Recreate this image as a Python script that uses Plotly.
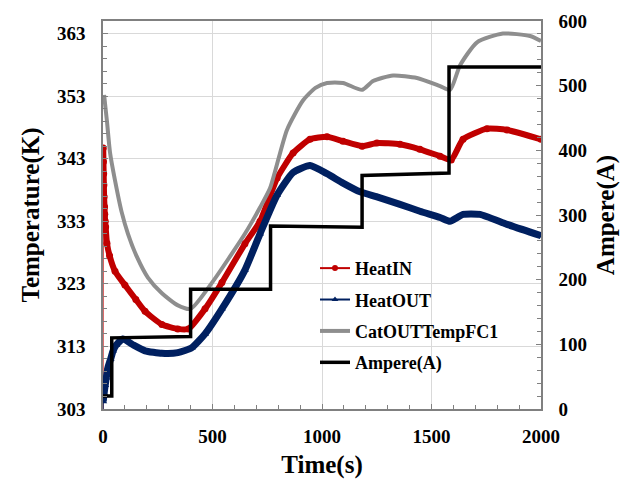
import plotly.graph_objects as go

# ---- data ----
t_in = [0, 1, 2, 3, 4, 5, 7, 8, 10, 12, 18, 30, 55, 100, 150, 192, 269, 342,
        390, 466, 543, 648, 717, 795, 868, 945, 1023, 1096, 1183, 1251, 1356,
        1447, 1539, 1590, 1644, 1753, 1845, 2000]
heat_in = [300, 344.7, 342.5, 340.6, 338.8, 336.9, 335.3, 334.1, 333.0, 332.1,
           329.5, 327.5, 325.0, 322.8, 320.5, 318.6, 316.5, 315.8, 315.8, 319.0,
           323.2, 329.4, 333.0, 339.9, 343.9, 346.1, 346.5, 345.8, 345.0, 345.5,
           345.3, 344.5, 343.4, 342.8, 346.1, 347.8, 347.6, 346.1]

t_out = [0, 1, 5, 10, 15, 23, 35, 46, 60, 91, 140, 192, 269, 342, 406, 466,
         543, 648, 717, 795, 868, 945, 1023, 1096, 1174, 1251, 1356, 1447,
         1539, 1584, 1644, 1721, 1845, 2000]
heat_out = [300, 304.2, 305.5, 306.8, 308.0, 309.7, 311.0, 312.3, 313.2, 314.2,
            313.2, 312.3, 311.9, 312.0, 312.8, 315.0, 319.0, 325.2, 331.0, 337.2,
            340.8, 341.9, 340.6, 339.1, 337.7, 336.9, 335.7, 334.6, 333.6, 333.0,
            334.1, 334.1, 332.5, 330.7]

t_cat = [5, 18, 32, 55, 85, 114, 155, 205, 269, 340, 400, 498, 648, 717, 763,
         840, 913, 970, 1023, 1096, 1183, 1233, 1324, 1434, 1539, 1585, 1630,
         1708, 1826, 1950, 2000]
cat_out = [353.2, 349.0, 344.0, 339.5, 334.5, 331.0, 327.3, 324.0, 321.5,
           319.6, 319.0, 323.2, 331.0, 335.2, 338.3, 347.6, 352.3, 354.3, 355.1,
           355.1, 354.0, 355.4, 356.3, 355.9, 354.6, 354.0, 357.9, 361.6, 363.0,
           362.6, 361.8]

t_amp = [0, 40, 40, 400, 400, 765, 765, 1183, 1183, 1580, 1580, 2000]
ampere = [20, 20, 110, 112, 185, 185, 283, 281, 361, 365, 529, 529]

temp_ticks = [303, 313, 323, 333, 343, 353, 363]
amp_ticks = [0, 100, 200, 300, 400, 500, 600]
time_ticks = [0, 500, 1000, 1500, 2000]

names = ["HeatIN", "HeatOUT", "CatOUTTempFC1", "Ampere(A)"]

RED = "#C00000"
BLUE = "#002060"
GREY = "#8E8E8E"
BLACK = "#000000"
AXC = "#808080"
FONT = "Liberation Serif, Times New Roman, serif"

fig = go.Figure()

# thin start segments (first sample) of HeatIN / HeatOUT
fig.add_trace(go.Scatter(x=t_in[:2], y=heat_in[:2], mode="lines",
                         line=dict(color=RED, width=1), showlegend=False))
fig.add_trace(go.Scatter(x=t_out[:2], y=heat_out[:2], mode="lines",
                         line=dict(color=BLUE, width=1), showlegend=False))

fig.add_trace(go.Scatter(x=t_in[1:], y=heat_in[1:], mode="lines+markers",
                         line=dict(color=RED, width=6, shape="spline", smoothing=0.5),
                         marker=dict(color=RED, size=7, symbol="circle"),
                         showlegend=False))
fig.add_trace(go.Scatter(x=t_out[1:], y=heat_out[1:], mode="lines+markers",
                         line=dict(color=BLUE, width=7, shape="spline", smoothing=0.5),
                         marker=dict(color=BLUE, size=7, symbol="triangle-up"),
                         showlegend=False))
fig.add_trace(go.Scatter(x=t_cat, y=cat_out, mode="lines",
                         line=dict(color=GREY, width=4, shape="spline", smoothing=0.6),
                         showlegend=False))
fig.add_trace(go.Scatter(x=t_amp, y=ampere, mode="lines", yaxis="y2",
                         line=dict(color=BLACK, width=3.5),
                         showlegend=False))

# legend entries
fig.add_trace(go.Scatter(x=[None], y=[None], mode="lines+markers", name=names[0],
                         line=dict(color=RED, width=2),
                         marker=dict(color=RED, size=6, symbol="circle"),
                         legendgroup="a"))
fig.add_trace(go.Scatter(x=[None], y=[None], mode="lines+markers", name=names[1],
                         line=dict(color=BLUE, width=2),
                         marker=dict(color=BLUE, size=6, symbol="triangle-up"),
                         legendgroup="b"))
fig.add_trace(go.Scatter(x=[None], y=[None], mode="lines", name=names[2],
                         line=dict(color=GREY, width=4), legendgroup="c"))
fig.add_trace(go.Scatter(x=[None], y=[None], mode="lines", name=names[3],
                         line=dict(color=BLACK, width=3.5), legendgroup="d",
                         yaxis="y2"))

tickfont = dict(family=FONT, size=19, color="black", weight="bold")
titlefont = dict(family=FONT, size=25, color="black", weight="bold")

fig.update_layout(
    width=635, height=485,
    margin=dict(l=103, r=94, t=11, b=75),
    paper_bgcolor="white", plot_bgcolor="white",
    font=dict(family=FONT, color="black"),
    xaxis=dict(range=[0, 2000], tickvals=time_ticks, showgrid=True,
               gridcolor="#D9D9D9", gridwidth=1, zeroline=False,
               showline=True, linecolor=AXC, linewidth=1.5, mirror=True,
               ticks="inside", ticklen=5, tickcolor=AXC,
               minor=dict(dtick=100, tick0=0, ticks="inside", ticklen=4,
                          tickcolor=AXC, showgrid=False),
               tickfont=tickfont, ticklabelstandoff=9,
               title=dict(text="Time(s)", font=titlefont, standoff=10)),
    yaxis=dict(range=[303, 365], tickvals=temp_ticks, showgrid=True,
               gridcolor="#D9D9D9", gridwidth=1, zeroline=False,
               showline=True, linecolor=AXC, linewidth=1.5,
               ticks="inside", ticklen=5, tickcolor=AXC,
               minor=dict(dtick=2, tick0=303, ticks="inside", ticklen=4,
                          tickcolor=AXC, showgrid=False),
               tickfont=tickfont, ticklabelstandoff=12,
               title=dict(text="Temperature(K)", font=titlefont, standoff=10)),
    yaxis2=dict(range=[0, 600], tickvals=amp_ticks, overlaying="y", side="right",
                showgrid=False, zeroline=False,
                showline=True, linecolor=AXC, linewidth=1.5,
                ticks="inside", ticklen=5, tickcolor=AXC,
                minor=dict(dtick=20, tick0=0, ticks="inside", ticklen=4,
                           tickcolor=AXC, showgrid=False),
                tickfont=tickfont, ticklabelstandoff=12,
                title=dict(text="Ampere(A)", font=titlefont, standoff=10)),
    legend=dict(x=0.484, y=0.41, xanchor="left", yanchor="top",
                bgcolor="rgba(0,0,0,0)", borderwidth=0,
                font=dict(family=FONT, size=18, color="black", weight="bold"),
                tracegroupgap=5, itemwidth=30),
)

fig.write_html("out.html")
